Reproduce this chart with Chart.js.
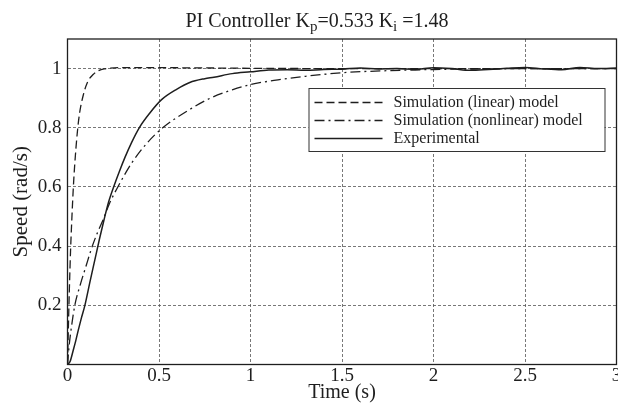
<!DOCTYPE html>
<html>
<head>
<meta charset="utf-8">
<script src="https://cdn.jsdelivr.net/npm/chart.js@4.4.1/dist/chart.umd.min.js"></script>
<style>
  html, body { margin: 0; padding: 0; background: #fff; overflow: hidden; }
  #wrap { position: relative; width: 618px; height: 407px; }
</style>
</head>
<body>
<div id="wrap"><canvas id="c"></canvas></div>
<script>
// ---------- data ----------
const seriesLabels = ['Simulation (linear) model', 'Simulation (nonlinear) model', 'Experimental'];

const timeLinear  = [0, 0.005, 0.01, 0.017, 0.025, 0.032, 0.04, 0.053, 0.065, 0.086, 0.11, 0.14, 0.17, 0.2, 0.3, 0.5, 0.8, 1.0, 1.5, 2.0, 2.5, 3.0];
const speedLinear = [0, 0.13, 0.25, 0.39, 0.51, 0.6, 0.68, 0.78, 0.845, 0.91, 0.955, 0.98, 0.993, 0.999, 1.003, 1.003, 1.002, 1.001, 1.0, 1.0, 1.0, 1.0];

const timeNonlinear  = [0, 0.01, 0.02, 0.04, 0.07, 0.1, 0.13, 0.16, 0.195, 0.23, 0.275, 0.35, 0.43, 0.52, 0.65, 0.78, 0.9, 1.0, 1.15, 1.3, 1.5, 1.75, 2.0, 2.3, 2.6, 3.0];
const speedNonlinear = [0, 0.07, 0.12, 0.2, 0.27, 0.33, 0.39, 0.44, 0.49, 0.545, 0.6, 0.68, 0.745, 0.8, 0.855, 0.9, 0.928, 0.946, 0.962, 0.974, 0.986, 0.993, 0.997, 0.999, 1.0, 1.0];

const timeExp  = [0, 0.014, 0.032, 0.045, 0.059, 0.075, 0.095, 0.123, 0.15, 0.175, 0.2, 0.225, 0.255, 0.285, 0.314, 0.35, 0.392, 0.45, 0.514, 0.596, 0.668, 0.75, 0.8, 0.9, 1.0, 1.1, 1.2, 1.3, 1.4, 1.5, 1.6, 1.7, 1.8, 1.9, 2.0, 2.1, 2.2, 2.3, 2.4, 2.5, 2.6, 2.7, 2.8, 2.9, 3.0];
const speedExp = [0, 0.01, 0.05, 0.08, 0.116, 0.155, 0.2, 0.28, 0.355, 0.425, 0.49, 0.55, 0.605, 0.655, 0.7, 0.75, 0.8, 0.85, 0.895, 0.93, 0.953, 0.966, 0.971, 0.983, 0.989, 0.995, 0.996, 0.994, 0.997, 0.998, 1.002, 0.999, 1.0, 0.997, 1.003, 1.0, 0.994, 0.997, 1.001, 1.004, 0.999, 0.996, 1.004, 1.0, 1.002];

const xTicks = [0, 0.5, 1, 1.5, 2, 2.5, 3];
const yTicks = [0.2, 0.4, 0.6, 0.8, 1];

const titleParts = [
  { text: 'PI Controller K', sub: false },
  { text: 'p', sub: true },
  { text: '=0.533 K', sub: false },
  { text: 'i', sub: true },
  { text: ' =1.48', sub: false }
];
const xTitle = 'Time (s)';
const yTitle = 'Speed (rad/s)';

// ---------- helpers ----------
const pts = (t, v) => t.map((x, i) => ({ x: x, y: v[i] }));
const FONT = '"Liberation Serif", "Times New Roman", serif';
const INK = '#1e1e1e';
const dashStyles = [[8, 4], [10, 4, 2, 4], []];

const framePlugin = {
  id: 'frame',
  afterDraw(chart) {
    const { ctx, chartArea: a } = chart;
    ctx.save();
    ctx.strokeStyle = INK;
    ctx.lineWidth = 1.3;
    ctx.setLineDash([]);
    ctx.strokeRect(a.left, a.top, a.right - a.left, a.bottom - a.top);

    // legend box inside plot
    const bx = a.right - 308, by = a.top + 49, bw = 296, bh = 63;
    ctx.fillStyle = '#fff';
    ctx.fillRect(bx, by, bw, bh);
    ctx.lineWidth = 1;
    ctx.strokeStyle = '#333';
    ctx.strokeRect(bx + 0.5, by + 0.5, bw, bh);
    chart.data.datasets.forEach((ds, i) => {
      const yy = by + 14.5 + i * 18;
      ctx.beginPath();
      ctx.setLineDash(ds.borderDash || []);
      ctx.lineWidth = ds.borderWidth;
      ctx.strokeStyle = ds.borderColor;
      ctx.moveTo(bx + 6, yy);
      ctx.lineTo(bx + 74, yy);
      ctx.stroke();
      ctx.setLineDash([]);
      ctx.fillStyle = INK;
      ctx.font = '16px ' + FONT;
      ctx.textBaseline = 'middle';
      ctx.textAlign = 'left';
      ctx.fillText(ds.label, bx + 85, yy);
    });

    // title with subscripts
    const big = '20px ' + FONT, small = '15px ' + FONT;
    let total = 0;
    titleParts.forEach(p => { ctx.font = p.sub ? small : big; total += ctx.measureText(p.text).width; });
    let x = 317 - total / 2;
    const base = 27;
    ctx.textBaseline = 'alphabetic';
    ctx.fillStyle = INK;
    titleParts.forEach(p => {
      ctx.font = p.sub ? small : big;
      ctx.fillText(p.text, x, p.sub ? base + 4 : base);
      x += ctx.measureText(p.text).width;
    });
    ctx.restore();
  }
};

new Chart(document.getElementById('c'), {
  type: 'line',
  data: {
    datasets: [
      { label: seriesLabels[0], data: pts(timeLinear, speedLinear), borderColor: INK, borderWidth: 1.3, borderDash: dashStyles[0] },
      { label: seriesLabels[1], data: pts(timeNonlinear, speedNonlinear), borderColor: INK, borderWidth: 1.3, borderDash: dashStyles[1] },
      { label: seriesLabels[2], data: pts(timeExp, speedExp), borderColor: INK, borderWidth: 1.5, borderDash: dashStyles[2] }
    ]
  },
  options: {
    responsive: true,
    maintainAspectRatio: false,
    animation: false,
    events: [],
    layout: { padding: { top: 39, right: 1.5, left: 0, bottom: 0 } },
    elements: {
      point: { radius: 0 },
      line: { cubicInterpolationMode: 'monotone', fill: false }
    },
    plugins: {
      legend: { display: false },
      title: { display: false },
      tooltip: { enabled: false }
    },
    scales: {
      x: {
        type: 'linear',
        min: 0, max: 3,
        afterBuildTicks: s => { s.ticks = xTicks.map(v => ({ value: v })); },
        afterFit: s => { s.height = 42.5; s.paddingLeft = 0; s.paddingRight = 0; },
        ticks: {
          color: INK, font: { family: FONT, size: 19 }, padding: 0, maxRotation: 0, autoSkip: false,
          callback: v => String(v)
        },
        grid: { color: '#555', lineWidth: 0.8, drawTicks: false },
        border: { display: false, dash: [3, 2] },
        title: { display: true, text: xTitle, color: INK, font: { family: FONT, size: 20 }, padding: { top: 0, bottom: 2 } }
      },
      y: {
        type: 'linear',
        min: 0, max: 1.1,
        afterBuildTicks: s => { s.ticks = yTicks.map(v => ({ value: v })); },
        afterFit: s => { s.width = 67.5; },
        ticks: {
          color: INK, font: { family: FONT, size: 19 }, padding: 6,
          callback: v => String(v)
        },
        grid: { color: '#555', lineWidth: 0.8, drawTicks: false },
        border: { display: false, dash: [3, 2] },
        title: { display: true, text: yTitle, color: INK, font: { family: FONT, size: 21 }, padding: { top: 9, bottom: 0 } }
      }
    }
  },
  plugins: [framePlugin]
});
</script>
</body>
</html>
